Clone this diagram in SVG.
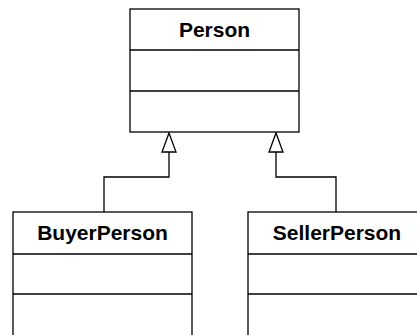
<svg xmlns="http://www.w3.org/2000/svg" width="417" height="335" viewBox="0 0 417 335">
<style>
.box{fill:#fff;stroke:#000;stroke-width:1.3}
.sep{stroke:#000;stroke-width:1.3}
.t{font-family:"Liberation Sans",Arial,sans-serif;font-weight:bold;font-size:21px;text-anchor:middle;fill:#000}
.edge{fill:none;stroke:#000;stroke-width:1.3}
</style>
<defs>
<marker id="gen" viewBox="0 0 16 20" refX="8" refY="0" markerWidth="16" markerHeight="20" markerUnits="userSpaceOnUse" orient="auto-start-reverse">
<path d="M8,0 L15,19 L1,19 Z" fill="#fff" stroke="#000" stroke-width="1.3"/>
</marker>
</defs>
<rect width="417" height="335" fill="#fff"/>
<g id="connectors">
<path class="edge" d="M169,152 V177 H104 V212"/>
<path class="edge" d="M276,152 V177 H336 V212"/>
<path d="M169,133 L176,152 L162,152 Z" fill="#fff" stroke="#000" stroke-width="1.3"/>
<path d="M276,133 L283,152 L269,152 Z" fill="#fff" stroke="#000" stroke-width="1.3"/>
</g>
<g id="Person">
<rect class="box" x="130" y="9" width="169" height="123"/>
<line class="sep" x1="130" y1="50" x2="299" y2="50"/>
<line class="sep" x1="130" y1="91" x2="299" y2="91"/>
<text class="t" x="214.5" y="37">Person</text>
</g>
<g id="BuyerPerson">
<rect class="box" x="13" y="212" width="179" height="130"/>
<line class="sep" x1="13" y1="254" x2="192" y2="254"/>
<line class="sep" x1="13" y1="294" x2="192" y2="294"/>
<text class="t" x="102.5" y="240">BuyerPerson</text>
</g>
<g id="SellerPerson">
<rect class="box" x="248" y="212" width="179" height="130"/>
<line class="sep" x1="248" y1="254" x2="427" y2="254"/>
<line class="sep" x1="248" y1="294" x2="427" y2="294"/>
<text class="t" x="337" y="240">SellerPerson</text>
</g>
</svg>
